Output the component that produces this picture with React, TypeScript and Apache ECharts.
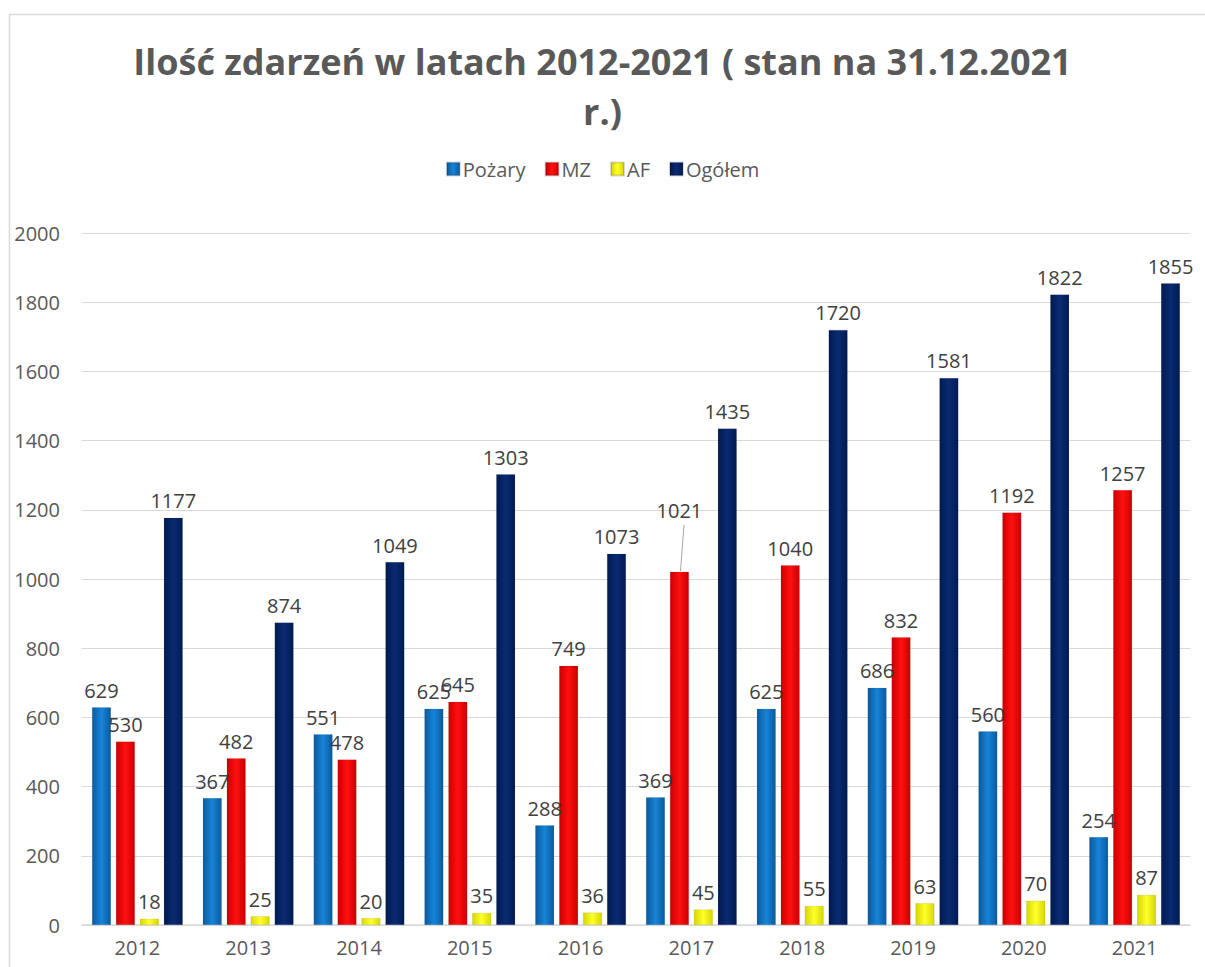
import React, { useEffect, useRef } from "react";
import * as echarts from "echarts";

const years = ["2012", "2013", "2014", "2015", "2016", "2017", "2018", "2019", "2020", "2021"];
const pozary = [629, 367, 551, 625, 288, 369, 625, 686, 560, 254];
const mz = [530, 482, 478, 645, 749, 1021, 1040, 832, 1192, 1257];
const af = [18, 25, 20, 35, 36, 45, 55, 63, 70, 87];
const ogolem = [1177, 874, 1049, 1303, 1073, 1435, 1720, 1581, 1822, 1855];
const yTicks = { min: 0, max: 2000, interval: 200 };
const titleText = "Ilość zdarzeń w latach 2012-2021 ( stan na 31.12.2021\nr.)";

const FONT = "'Open Sans', 'Noto Sans', sans-serif";

function grad(edge: string, mid: string) {
  return new echarts.graphic.LinearGradient(0, 0, 1, 0, [
    { offset: 0, color: edge },
    { offset: 0.5, color: mid },
    { offset: 1, color: edge },
  ]);
}

export default function App() {
  const ref = useRef<HTMLDivElement>(null);
  useEffect(() => {
    if (!ref.current) return;
    const chart = echarts.init(ref.current, undefined, { renderer: "svg" });
    const label = {
      show: true,
      position: "top" as const,
      distance: 7,
      color: "#404040",
      fontSize: 20,
      fontFamily: FONT,
    };
    const mk = (name: string, data: any[], color: any) => ({
      name,
      type: "bar",
      barWidth: 19,
      barGap: "26%",
      data,
      itemStyle: { color, borderColor: "rgba(0,0,0,0.15)", borderWidth: 0.5 },
      label,
    });
    const mzData = mz.map((v, i) =>
      i === 5 ? { value: v, label: { offset: [0, -44] } } : v
    );
    chart.setOption({
      animation: false,
      backgroundColor: "#ffffff",
      color: ["#0b6cbf", "#ff0000", "#ffff00", "#002060"],
      title: {
        text: titleText,
        left: "center",
        top: 36,
        padding: 0,
        textStyle: {
          fontFamily: FONT,
          fontWeight: "bold",
          fontSize: 36,
          lineHeight: 50,
          color: "#595959",
        },
      },
      legend: {
        top: 154,
        left: "center",
        itemWidth: 13,
        itemHeight: 13,
        itemGap: 19,
        icon: "rect",
        textStyle: { fontFamily: FONT, fontSize: 20, color: "#595959", padding: [0, 0, 0, -2] },
        data: ["Pożary", "MZ", "AF", "Ogółem"],
      },
      grid: { left: 82, right: 15, top: 233, bottom: 42, containLabel: false },
      xAxis: {
        type: "category",
        data: years,
        axisLine: { lineStyle: { color: "#d9d9d9", width: 1.5 } },
        axisTick: { show: false },
        axisLabel: { color: "#595959", fontSize: 20, fontFamily: FONT, margin: 12 },
      },
      yAxis: {
        type: "value",
        min: yTicks.min,
        max: yTicks.max,
        interval: yTicks.interval,
        axisLine: { show: false },
        axisTick: { show: false },
        splitLine: { lineStyle: { color: "#d9d9d9", width: 1.2 } },
        axisLabel: {
          color: "#595959",
          fontSize: 20,
          fontFamily: FONT,
          margin: 22,
          formatter: (v: number) => String(v),
        },
      },
      graphic: [
        {
          type: "rect",
          left: 7,
          top: 12,
          shape: { width: 1300, height: 1100 },
          style: { fill: "none", stroke: "#d9d9d9", lineWidth: 1.5 },
          silent: true,
          z: -1,
        },
        {
          type: "line",
          shape: { x1: 680.5, y1: 571, x2: 684, y2: 525 },
          style: { stroke: "#a6a6a6", lineWidth: 1 },
          silent: true,
        },
      ],
      series: [
        mk("Pożary", pozary, grad("#0a5a9e", "#1784d8")),
        mk("MZ", mzData, grad("#cc0000", "#ff1010")),
        mk("AF", af, grad("#d6d600", "#ffff2a")),
        mk("Ogółem", ogolem, grad("#001a52", "#0a2b72")),
      ],
    });
    return () => chart.dispose();
  }, []);
  return (
    <div
      ref={ref}
      style={{ position: "fixed", left: 0, top: 0, width: 1205, height: 967 }}
    />
  );
}
